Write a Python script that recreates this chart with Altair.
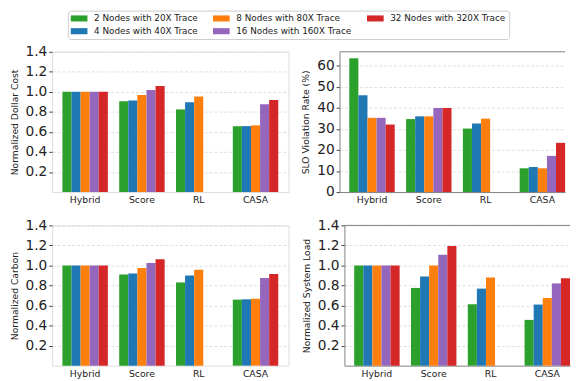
import altair as alt
import pandas as pd

methods = ["Hybrid", "Score", "RL", "CASA"]
series = [
    "2 Nodes with 20X Trace",
    "4 Nodes with 40X Trace",
    "8 Nodes with 80X Trace",
    "16 Nodes with 160X Trace",
    "32 Nodes with 320X Trace",
]
colors = ["#2ca02c", "#1f77b4", "#ff7f0e", "#9467bd", "#d62728"]

dollar_cost = {
    "Hybrid": [1.0, 1.0, 1.0, 1.0, 1.0],
    "Score": [0.906, 0.915, 0.970, 1.019, 1.058],
    "RL": [0.825, 0.896, 0.954],
    "CASA": [0.657, 0.658, 0.666, 0.877, 0.919],
}
slo_violation = {
    "Hybrid": [63.6, 46.0, 35.3, 35.3, 32.1],
    "Score": [34.7, 36.0, 36.0, 40.0, 40.0],
    "RL": [30.2, 32.6, 34.9],
    "CASA": [11.3, 11.9, 11.3, 17.2, 23.4],
}
carbon = {
    "Hybrid": [1.0, 1.0, 1.0, 1.0, 1.0],
    "Score": [0.909, 0.919, 0.974, 1.026, 1.062],
    "RL": [0.831, 0.899, 0.958],
    "CASA": [0.659, 0.662, 0.668, 0.876, 0.915],
}
system_load = {
    "Hybrid": [1.0, 1.0, 1.0, 1.0, 1.0],
    "Score": [0.776, 0.889, 1.0, 1.107, 1.195],
    "RL": [0.613, 0.769, 0.880],
    "CASA": [0.457, 0.610, 0.675, 0.821, 0.873],
}

norm_ticks = [0.2, 0.4, 0.6, 0.8, 1.0, 1.2, 1.4]
slo_ticks = [0, 10, 20, 30, 40, 50, 60]

FRAME = "#7f7f7f"
H = 143
W_LEFT = 241
W_RIGHT = 230


def build(values):
    rows = []
    for m in methods:
        for s, v in zip(series, values[m]):
            rows.append({"Method": m, "Series": s, "Value": v})
    return pd.DataFrame(rows)


legend_path = "M-1,-0.62H2.4V0.62H-1Z"


def panel(values, title, domain, ticks, fmt, right=False, show_legend=False):
    df = build(values)
    if show_legend:
        leg = alt.Legend(
            title=None,
            orient="none",
            legendX=16,
            legendY=-42,
            columns=3,
            symbolType=legend_path,
            symbolSize=100,
            symbolStrokeWidth=0,
            labelFontSize=9,
            labelOffset=13.7,
            labelColor="#222222",
            columnPadding=15,
            rowPadding=3,
            padding=3,
            strokeColor="#cccccc",
            cornerRadius=3,
            fillColor="white",
        )
    else:
        leg = None
    color = alt.Color(
        "Series:N",
        scale=alt.Scale(domain=series, range=colors),
        legend=leg,
    )
    width = W_RIGHT if right else W_LEFT
    if right:
        xscale = alt.Scale(paddingInner=0.2, paddingOuter=0.086, align=1)
    else:
        xscale = alt.Scale(paddingInner=0.2, paddingOuter=0.181)
    bars = (
        alt.Chart(df)
        .mark_bar()
        .encode(
            x=alt.X(
                "Method:N",
                sort=methods,
                scale=xscale,
                axis=alt.Axis(
                    title=None,
                    labelAngle=0,
                    ticks=False,
                    domain=right,
                    domainColor=FRAME,
                    domainWidth=1,
                    grid=False,
                    labelFontSize=9.5,
                    labelPadding=3,
                    labelColor="#222222",
                ),
            ),
            xOffset=alt.XOffset(
                "Series:N",
                sort=series,
                scale=alt.Scale(domain=series, paddingInner=0, paddingOuter=0),
            ),
            y=alt.Y(
                "Value:Q",
                scale=alt.Scale(domain=domain, nice=False, zero=True),
                axis=alt.Axis(
                    title=title,
                    values=ticks,
                    labelFontSize=14,
                    titleFontSize=9.4,
                    titleFontWeight="normal",
                    titleColor="#222222",
                    labelColor="#222222",
                    tickSize=3.5,
                    tickColor="#444444",
                    domain=right,
                    domainColor=FRAME,
                    domainWidth=1,
                    grid=True,
                    gridDash=[3, 2],
                    gridColor="#d6d6d6",
                    gridWidth=0.8,
                    labelPadding=2,
                    titlePadding=6,
                    format=fmt,
                ),
            ),
            color=color,
        )
    )
    if right:
        frame_df = pd.DataFrame({"edge": ["top"]})
        top_line = (
            alt.Chart(frame_df)
            .mark_rule(color=FRAME, strokeWidth=1)
            .encode(x=alt.value(0), x2=alt.value(width), y=alt.value(0))
        )
        return alt.layer(bars, top_line).properties(
            width=width, height=H, view=alt.ViewBackground(stroke="transparent")
        )
    return bars.properties(width=width, height=H)


p1 = panel(dollar_cost, "Normalized Dollar Cost", [0, 1.4], norm_ticks, ".1f", show_legend=True)
p2 = panel(slo_violation, "SLO Violation Rate (%)", [0, 66.7], slo_ticks, "d", right=True)
p3 = panel(carbon, "Normalized Carbon", [0, 1.4], norm_ticks, ".1f")
p4 = panel(system_load, "Normalized System Load", [0, 1.4], norm_ticks, ".1f", right=True)

chart = (
    alt.vconcat(
        alt.hconcat(p1, p2, spacing=11),
        alt.hconcat(p3, p4, spacing=11),
        spacing=13,
    )
    .properties(padding={"left": 0, "top": -2, "right": 0, "bottom": 0})
    .configure_view(stroke=FRAME, strokeWidth=1)
    .configure(font="DejaVu Sans", background="white")
)

chart.save("out.html", embed_options={"renderer": "svg", "actions": False})
